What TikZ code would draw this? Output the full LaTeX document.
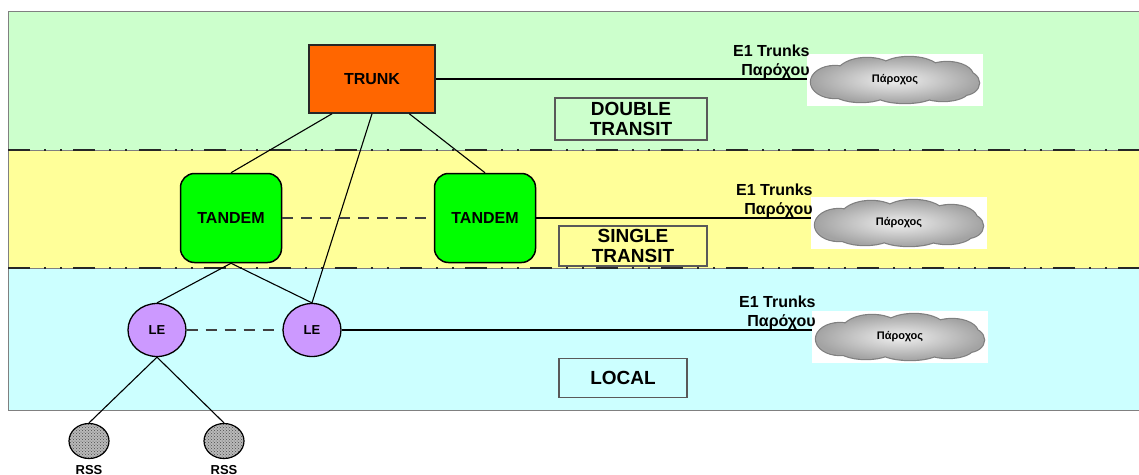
\documentclass[tikz,border=0pt]{standalone}
\usepackage{fontspec}
\setmainfont{Liberation Sans}
\usetikzlibrary{shapes.geometric,patterns}
\definecolor{bandgreen}{HTML}{CCFFCC}
\definecolor{bandyellow}{HTML}{FFFF99}
\definecolor{bandcyan}{HTML}{CCFFFF}
\definecolor{trunkorange}{HTML}{FF6600}
\definecolor{lepurple}{HTML}{CC99FF}
% cloud outline: a union of ellipses round (0,0)
\newcommand{\provcloud}{(-60,2) ellipse [x radius=24pt, y radius=16pt]
  (-28,-6) ellipse [x radius=30pt, y radius=16pt]
  (14,-8) ellipse [x radius=32pt, y radius=15pt]
  (52,-4) ellipse [x radius=26pt, y radius=14pt]
  (68,3) ellipse [x radius=16pt, y radius=12pt]
  (-34,10) ellipse [x radius=30pt, y radius=12pt]
  (10,11) ellipse [x radius=34pt, y radius=12pt]
  (48,10) ellipse [x radius=26pt, y radius=11pt]}
\tikzset{
  link/.style={line width=1.1pt},
  peer/.style={line width=2pt, black!75, dash pattern=on 11pt off 8pt},
  bandline/.style={line width=2.6pt, black!85, dash pattern=on 22pt off 14pt on 2pt off 14pt on 2pt off 11.3pt},
  layerbox/.style={draw=black!65, line width=1.2pt, align=center, inner sep=0pt, font=\fontsize{19}{20}\selectfont\bfseries},
  provider/.style={fill=white, minimum width=176pt, minimum height=52pt, inner sep=0pt},
  cloudtxt/.style={inner sep=0pt, font=\fontsize{11}{13}\selectfont\bfseries},
  e1/.style={anchor=south east, inner sep=0pt, align=right, font=\fontsize{16}{19}\selectfont\bfseries}
}
\begin{document}
\begin{tikzpicture}[x=1pt, y=-1pt,
    trunkbox/.style={draw=black!85, line width=1.5pt, fill=trunkorange, minimum width=126pt, minimum height=68pt, font=\fontsize{16}{18}\selectfont\bfseries},
    tandembox/.style={draw, line width=1.5pt, fill=green, rounded corners=14pt, minimum width=101pt, minimum height=89pt, font=\fontsize{16}{18}\selectfont\bfseries},
    lebox/.style={ellipse, draw, line width=1.3pt, fill=lepurple, minimum width=58pt, minimum height=53pt, inner sep=0pt, font=\fontsize{13}{15}\selectfont\bfseries},
    rss/.style={ellipse, draw, line width=1.2pt, minimum width=40pt, minimum height=35pt, inner sep=0pt, preaction={fill=gray!55}, pattern=crosshatch dots, pattern color=black!70}]
    \useasboundingbox (0,0) rectangle (1139,474);
    % layers
    \filldraw[fill=bandgreen, draw=gray] (8,11) rectangle (1142,150);
    \filldraw[fill=bandyellow, draw=gray] (8,150) rectangle (1142,268);
    \filldraw[fill=bandcyan, draw=gray] (8,268) rectangle (1142,410);
    \foreach \y in {150,268} \draw[bandline] (8,\y) -- (1142,\y);

    \node[trunkbox] (trunk) at (372,79) {TRUNK};
    \node[tandembox] (tand1) at (231,218) {TANDEM};
    \node[tandembox] (tand2) at (485,218) {TANDEM};
    \node[lebox] (le1) at (157,330) {LE};
    \node[lebox] (le2) at (312,330) {LE};
    \node[rss, label={[inner sep=0pt, label distance=6pt, font=\fontsize{13}{15}\selectfont\bfseries]below:RSS}] (rss1) at (89,441) {};
    \node[rss, label={[inner sep=0pt, label distance=6pt, font=\fontsize{13}{15}\selectfont\bfseries]below:RSS}] (rss2) at (224,441) {};

    \node[layerbox, minimum width=152pt, minimum height=42pt] (double) at (631,119) {DOUBLE\\TRANSIT};
    \node[layerbox, minimum width=148pt, minimum height=40pt] (single) at (633,246) {SINGLE\\TRANSIT};
    \node[layerbox, minimum width=128pt, minimum height=39pt] (local) at (623,378) {LOCAL};

    % providers
    \foreach \i/\x/\y in {1/895/80, 2/899/223, 3/900/337} {
        \node[provider] (p\i) at (\x,\y) {};
        \begin{scope}[shift={(p\i)}]
            \draw[line width=2.4pt, black!50] \provcloud;
            \shade[inner color=gray!12, outer color=gray!72] \provcloud;
        \end{scope}
        \node[cloudtxt] (c\i) at (p\i) {Πάροχος};
    }

    \draw[link] (trunk.221) -- (tand1.north);
    \draw[link] (trunk.south) -- (le2.north);
    \draw[link] (trunk.317) -- (tand2.north);
    \draw[link] (tand1.south) -- (le1.north);
    \draw[link] (tand1.south) -- (le2.north);
    \draw[link] (le1.south) -- (rss1.north);
    \draw[link] (le1.south) -- (rss2.north);
    \draw[peer] (tand1.east) -- (tand2.west);
    \draw[peer] (le1.east) -- (le2.west);

    % E1 trunks
    \draw[link] (trunk.east) -- (trunk.east -| p1.west);
    \draw[link] (tand2.east) -- (tand2.east -| p2.west);
    \draw[link] (le2.east) -- (le2.east -| p3.west);
    \node[e1, xshift=3pt] (e1a) at (p1.west |- trunk.east) {E1 Trunks\\Παρόχου};
    \node[e1, xshift=2pt] (e1b) at (p2.west |- tand2.east) {E1 Trunks\\Παρόχου};
    \node[e1, xshift=4pt] (e1c) at (p3.west |- le2.east) {E1 Trunks\\Παρόχου};
\end{tikzpicture}
\end{document}
